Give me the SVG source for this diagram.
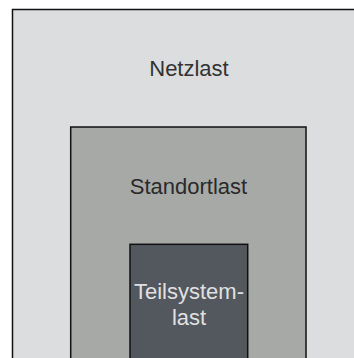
<svg xmlns="http://www.w3.org/2000/svg" width="354" height="358" viewBox="0 0 354 358">
<style>
.box{stroke:#111;stroke-width:1.5}
.lbl{font-family:"Liberation Sans",Arial,sans-serif;font-size:22px;text-anchor:middle}
</style>
<rect width="354" height="358" fill="#ffffff"/>
<g id="netzlast">
<rect class="box" x="12.5" y="9.5" width="360" height="370" fill="#dcdddf"/>
<text class="lbl" x="189" y="76" fill="#333333">Netzlast</text>
</g>
<g id="standortlast">
<rect class="box" x="70.7" y="127" width="235.3" height="250" fill="#a7a9a7"/>
<text class="lbl" x="188.5" y="194.3" fill="#2a2a2a">Standortlast</text>
</g>
<g id="teilsystemlast">
<rect class="box" x="130" y="244.3" width="117.7" height="130" fill="#53575e"/>
<text class="lbl" x="189" y="299.3" fill="#e0e0e0" font-size="21.4">Teilsystem-</text>
<text class="lbl" x="189" y="325" fill="#e0e0e0" font-size="21.4">last</text>
</g>
<g id="connectors"/>
</svg>
